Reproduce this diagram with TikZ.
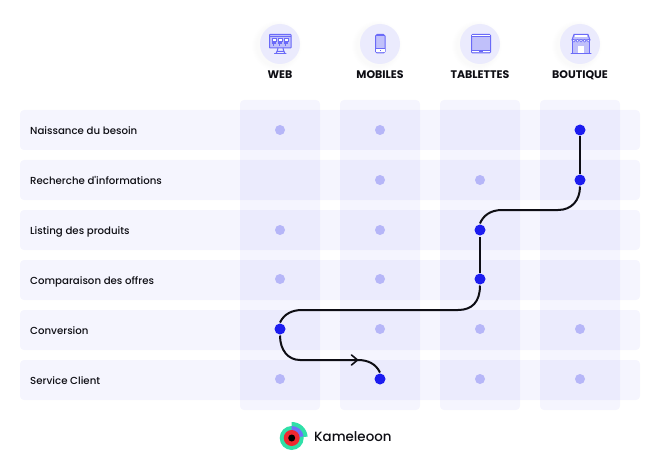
\documentclass[tikz,border=0pt]{standalone}
\usepackage{fontspec}
\setmainfont{Poppins}
\newfontfamily\lblfont{Poppins Medium}
\newfontfamily\hdfont{Poppins Bold}
\definecolor{dotblue}{HTML}{1C1CF0}
\definecolor{dotpale}{HTML}{B6B6F8}
\definecolor{tint}{HTML}{2020F0}
\definecolor{discfill}{HTML}{EBEBFD}
\definecolor{iconline}{HTML}{6A6AF8}
\definecolor{iconfill}{HTML}{C0C0FA}
\definecolor{ink}{HTML}{0E0E14}
\definecolor{kteal}{HTML}{2FE0A8}
\definecolor{kred}{HTML}{F02830}
\definecolor{kviolet}{HTML}{7070F8}
\tikzset{
  x=1pt,y=-1pt,
  band/.style={fill=tint,fill opacity=.042,draw=none,rounded corners=4pt},
  paledot/.style={circle,fill=dotpale,minimum size=10pt,inner sep=0pt},
  bluedot/.style={circle,fill=dotblue,minimum size=11pt,inner sep=0pt,outer sep=1pt},
  wire/.style={draw=ink,line width=2pt},
  rowlabel/.style={anchor=base west,inner sep=0pt,font=\lblfont\fontsize{10.2}{12}\selectfont,text=ink},
  collabel/.style={anchor=base,inner sep=0pt,font=\hdfont\fontsize{11}{12}\selectfont,text=ink},
  disc/.style={circle,fill=discfill,minimum size=40pt,inner sep=0pt},
  icon/.style={draw=iconline,line width=1pt,fill=white},
  iconf/.style={draw=iconline,line width=1pt,fill=iconfill},
}
\begin{document}
\begin{tikzpicture}
\useasboundingbox (0,0) rectangle (665,460);
\fill[white] (0,0) rectangle (665,460);
% bands
\foreach \y in {110,160,210,260,310,360}
  \path[band] (20,\y) rectangle (640,\y+40);
\foreach \x in {240,340,440,540}
  \path[band] (\x,100) rectangle (\x+80,410);
% labels
\node[rowlabel] (l1) at (30,134.3) {Naissance du besoin};
\node[rowlabel] (l2) at (30,184.3) {Recherche d'informations};
\node[rowlabel] (l3) at (30,234.3) {Listing des produits};
\node[rowlabel] (l4) at (30,284.3) {Comparaison des offres};
\node[rowlabel] (l5) at (30,334.3) {Conversion};
\node[rowlabel] (l6) at (30,384.3) {Service Client};
% header discs with soft shadow
\foreach \x/\n in {280/dw,380/dm,480/dt,580/db}{
  \foreach \r in {25,24,23,22,21}
    \fill[black,opacity=.005] (\x-3,46) circle (\r);
  \node[disc] (\n) at (\x,44) {};
}
\node[collabel] (cw) at (280,78.2) {WEB};
\node[collabel] (cm) at (380,78.2) {MOBILES};
\node[collabel] (ct) at (480,78.2) {TABLETTES};
\node[collabel] (cb) at (580,78.2) {BOUTIQUE};
% web icon
\draw[iconf,rounded corners=.5pt] (269.5,34.5) rectangle (291,48);
\draw[iconline,line width=1pt] (269.5,36.5) -- (291,36.5);
\foreach \x in {272,278,284}{
  \fill[white,draw=iconline,line width=.8pt] (\x,38.5) rectangle (\x+4,41.5);
  \fill[iconline] (\x,42.5) rectangle (\x+4,44.5);
  \fill[iconline] (\x+.7,44.5) rectangle (\x+2.2,46);
}
\draw[iconline,line width=1pt] (278,48) -- (277,52) (283,48) -- (284,52);
\draw[iconline,line width=1pt,line cap=round] (274.5,53.5) -- (286,53.5);
\draw[iconline,line width=1pt] (276,53.5) -- (277,51.5) -- (284,51.5) -- (285,53.5);
% mobile icon
\draw[iconf,rounded corners=1.5pt] (375.5,34.5) rectangle (385,53);
\draw[iconline,line width=1pt] (375.5,36) -- (385,36) (375.5,49) -- (385,49);
\fill[white] (376,49.5) rectangle (384.5,52.5);
\fill[iconline] (379.5,50.5) rectangle (381,51.5);
% tablet icon
\draw[iconf,rounded corners=1pt] (471.5,34.5) rectangle (490.5,53);
\fill[white] (472,35) rectangle (490,37);
\fill[white] (472,50.5) rectangle (490,52.5);
\draw[iconline,line width=1pt] (471.5,37) -- (490.5,37) (471.5,50.5) -- (490.5,50.5);
\fill[iconline] (479,51) rectangle (483,52);
% boutique icon
\draw[iconf] (572.5,40) rectangle (589.5,53.5);
\draw[iconf] (574,34.5) -- (588,34.5) -- (590,40) -- (572,40) -- cycle;
\fill[white] (575,35.2) rectangle (587,36.7);
\foreach \x in {573.8,577.4,581,584.6,588.2}
  \fill[white,draw=iconline,line width=.5pt] (\x,40.7) circle (1.4);
\fill[white] (578,46) rectangle (584,53);
\draw[iconline,line width=1pt,line cap=round] (571,53.7) -- (591,53.7);
% dots
\foreach \x/\y/\n in {280/130/p1,380/130/p2,380/180/p3,480/180/p4,280/230/p5,380/230/p6,
  280/279/p7,380/279/p8,380/329/p9,480/329/p10,580/329/p11,280/379/p12,480/379/p13,580/379/p14}
  \node[paledot] (\n) at (\x,\y) {};
\node[bluedot] (n1) at (580,130) {};
\node[bluedot] (n2) at (580,180) {};
\node[bluedot] (n3) at (480,230) {};
\node[bluedot] (n4) at (480,279) {};
\node[bluedot] (n5) at (280,329) {};
\node[bluedot] (n6) at (380,379) {};
% connectors
\coordinate (a1) at (558,210);
\coordinate (a2) at (502,210);
\coordinate (b1) at (458,310);
\coordinate (b2) at (302,310);
\coordinate (c1) at (300,360);
\coordinate (c2) at (358,360);
\draw[wire] (n1) -- (n2);
\draw[wire] (n2.south) .. controls (580,200) and (572,210) .. (a1) -- (a2) .. controls (490,210) and (483,216) .. (n3.north);
\draw[wire] (n3) -- (n4);
\draw[wire] (n4.south) .. controls (480,302) and (472,310) .. (b1) -- (b2) .. controls (292,310) and (284,314) .. (n5.north);
\draw[wire] (n5.south) .. controls (280,350) and (288,360) .. (c1) -- (c2) .. controls (368,360) and (376,364) .. (n6.north);
\draw[draw=ink,line width=1.6pt,line cap=round,line join=miter] (351.5,355) -- (357.5,360) -- (351.5,365);
% logo
\begin{scope}[shift={(291.7,438)},x=1pt,y=1pt]
  \fill[kteal] (0,0) circle (12pt);
  \fill[kteal] (0,0) -- (0,16pt) arc[start angle=90,end angle=5,radius=16pt] -- cycle;
  \fill[kviolet] (0,0) -- (0,12pt) arc[start angle=90,end angle=8,radius=12pt] -- cycle;
  \fill[kred] (0,0) circle (8pt);
  \fill[black] (0,0) circle (3.5pt);
\end{scope}
\node[anchor=base west,inner sep=0pt,font=\lblfont\fontsize{13.4}{16}\selectfont,text=ink] (logo) at (314,441.5) {Kameleoon};
\end{tikzpicture}
\end{document}
